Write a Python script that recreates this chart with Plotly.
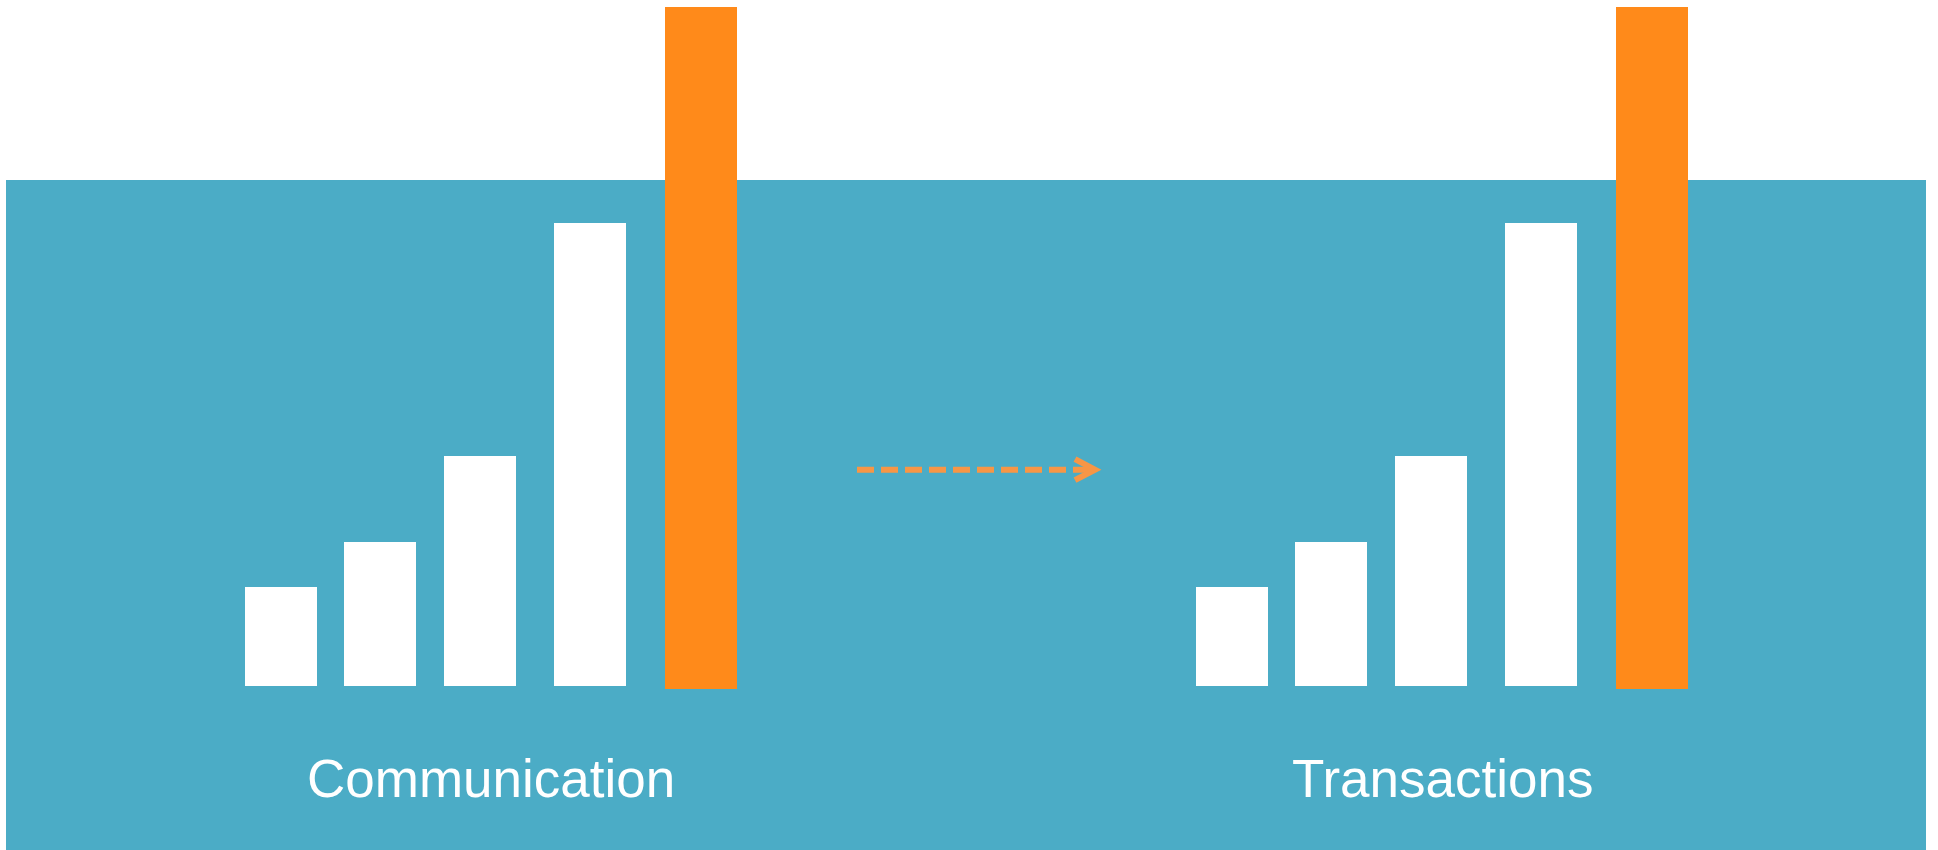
import plotly.graph_objects as go

# ---------------- data ----------------
categories = ["Communication", "Transactions"]
bar_values = [99, 144, 230, 463]          # white bars (same in both groups)
highlight_value = 682                      # orange bar
highlight_base = -3

# ---------------- layout constants ----------------
W, H = 1938, 850
group_starts = [281, 1232]                 # centre of first bar in each group
bar_slots = [0, 99, 199, 309]              # offsets of the white bars
highlight_slot = 420                       # offset of the orange bar
bar_width = 72
baseline_px = 686                          # pixel row of the bar baseline

TEAL = "#4BACC6"
ORANGE = "#FF8A1A"
ARROW = "#F79646"

fig = go.Figure()

white_x, white_y, orange_x, orange_y = [], [], [], []
for gs in group_starts:
    for off, v in zip(bar_slots, bar_values):
        white_x.append(gs + off)
        white_y.append(v)
    orange_x.append(gs + highlight_slot)
    orange_y.append(highlight_value)

fig.add_trace(go.Bar(x=white_x, y=white_y, width=bar_width,
                     marker=dict(color="white", line=dict(width=0)),
                     hoverinfo="skip"))
fig.add_trace(go.Bar(x=orange_x, y=orange_y, base=highlight_base, width=bar_width,
                     marker=dict(color=ORANGE, line=dict(width=0)),
                     hoverinfo="skip"))

y_bottom = baseline_px - H
y_top = baseline_px

# teal background panel
fig.add_shape(type="rect", x0=6, x1=1926, y0=y_bottom, y1=baseline_px - 180,
              fillcolor=TEAL, line=dict(width=0), layer="below")

# dashed arrow
ay = baseline_px - 469.7
fig.add_shape(type="line", x0=857, x1=1094, y0=ay, y1=ay,
              line=dict(color=ARROW, width=6, dash="17px,7px"))
fig.add_shape(type="path",
              path=f"M 1075,{ay + 10.5} L 1095,{ay} L 1075,{ay - 10.5}",
              line=dict(color=ARROW, width=6))

# labels
for gs, name in zip(group_starts, categories):
    cx = gs + highlight_slot / 2
    fig.add_annotation(x=cx, y=baseline_px - 778, text=name, showarrow=False,
                       xanchor="center", yanchor="middle",
                       font=dict(family="Liberation Sans, Arial, sans-serif",
                                 size=53, color="white"))

fig.update_layout(
    width=W, height=H,
    margin=dict(l=0, r=0, t=0, b=0),
    paper_bgcolor="white", plot_bgcolor="white",
    barmode="overlay", showlegend=False,
    xaxis=dict(range=[0, W], visible=False, fixedrange=True),
    yaxis=dict(range=[y_bottom, y_top], visible=False, fixedrange=True),
)

fig.write_html("out.html", config={"displayModeBar": False},
               post_script="document.body.style.margin='0';document.body.style.overflow='hidden';")
